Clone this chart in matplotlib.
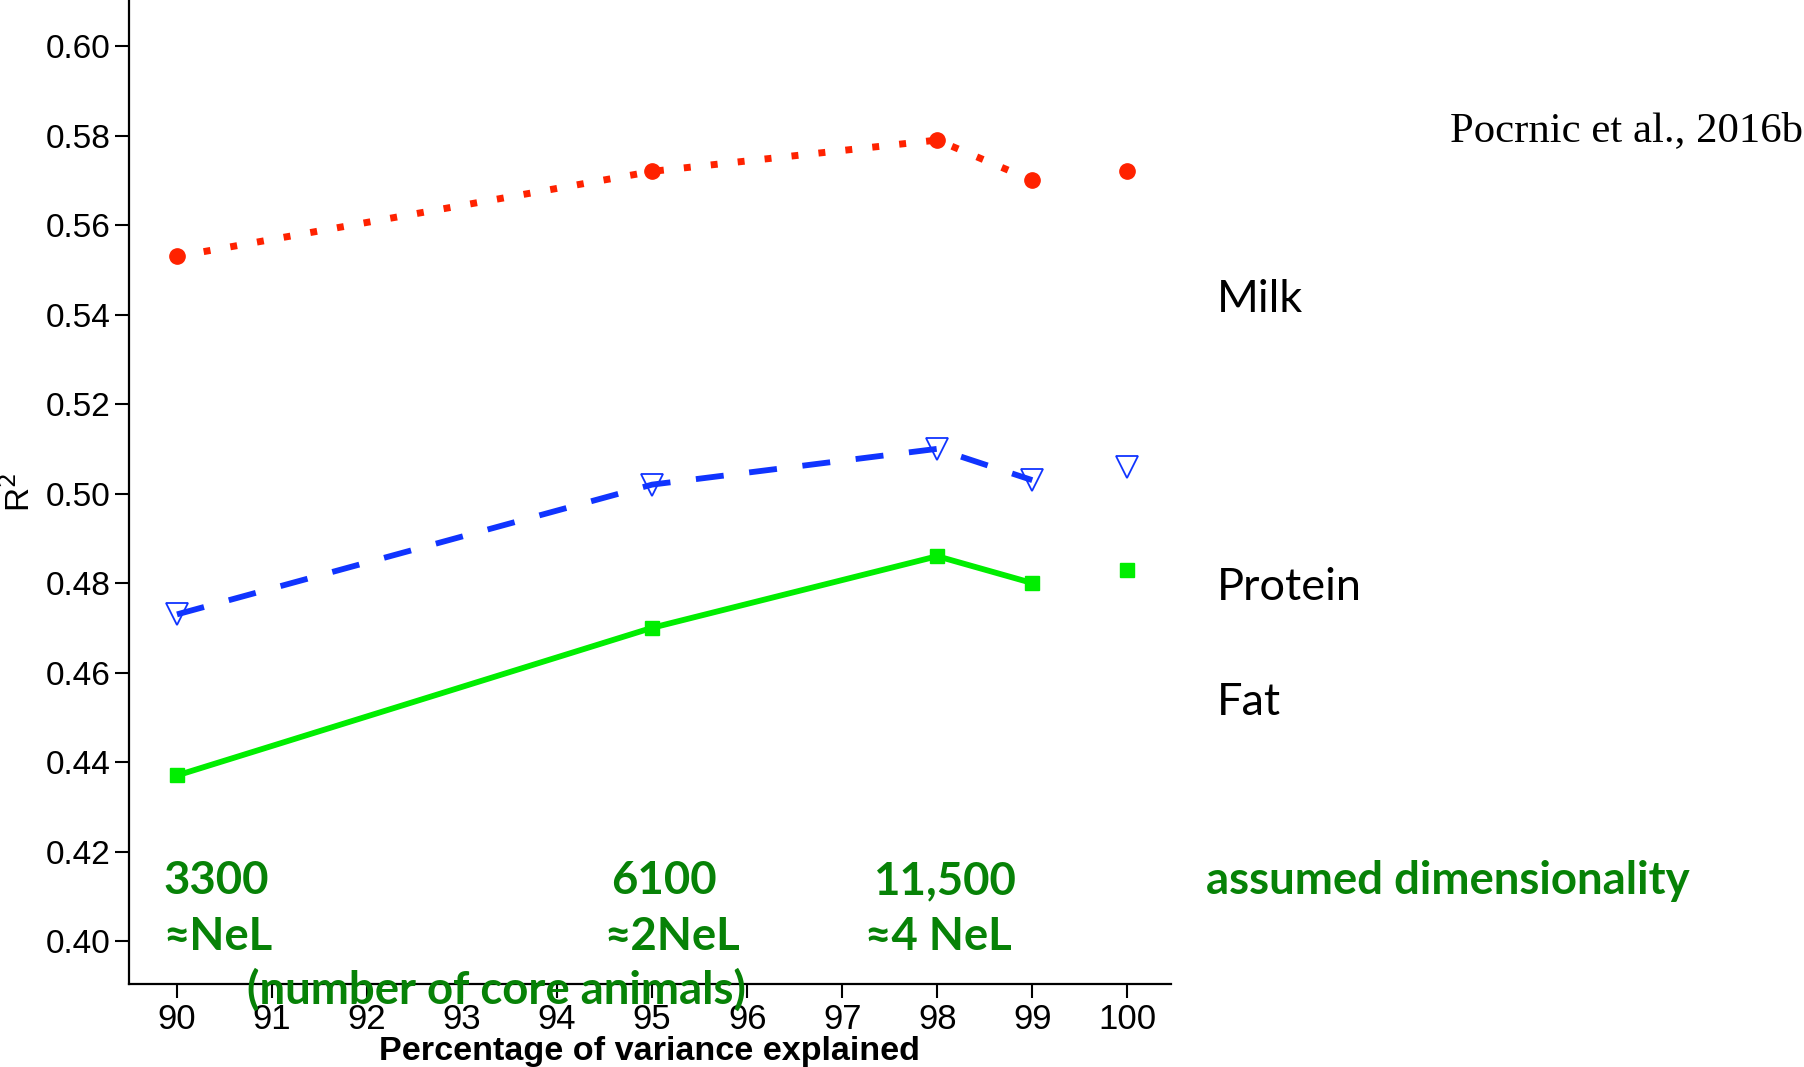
import matplotlib
matplotlib.use("Agg")
import matplotlib.pyplot as plt

# data
pct = [90, 95, 98, 99, 100]
milk = [0.553, 0.572, 0.579, 0.570, 0.572]
protein = [0.473, 0.502, 0.510, 0.503, 0.506]
fat = [0.437, 0.470, 0.486, 0.480, 0.483]
xticks = [90, 91, 92, 93, 94, 95, 96, 97, 98, 99, 100]
yticks = [0.40, 0.42, 0.44, 0.46, 0.48, 0.50, 0.52, 0.54, 0.56, 0.58, 0.60]
core_n = ["3300", "6100", "11,500"]
core_nel = ["\u2248NeL", "\u22482NeL", "\u22484 NeL"]

red = "#ff2200"
blue = "#1034ff"
lime = "#00ee00"
dkgreen = "#078207"

plt.rcParams["font.family"] = ["Liberation Sans", "DejaVu Sans"]

fig = plt.figure(figsize=(18.04, 10.67), dpi=100)
ax = fig.add_axes([0.0715, 0.0778, 0.5775, 0.9222])

# lines only for 90..99, the 100 point stands alone
ax.plot(pct[:4], milk[:4], color=red, lw=5.0, dashes=(1.0, 2.9), dash_capstyle="butt")
ax.plot(pct, milk, ls="none", marker="o", ms=11, color=red)
ax.plot(pct[:4], protein[:4], color=blue, lw=4.2, dashes=(4.8, 4.4), dash_capstyle="butt")
ax.plot(pct, protein, ls="none", marker="v", ms=16, mfc="none", mec=blue, mew=1.3)
ax.plot(pct[:4], fat[:4], color=lime, lw=4.2)
ax.plot(pct, fat, ls="none", marker="s", ms=10.5, color=lime)

ax.set_xlim(89.495, 100.458)
ax.set_ylim(0.3904, 0.6103)
ax.set_xticks(xticks)
ax.set_yticks(yticks)
ax.set_xticklabels([str(t) for t in xticks])
ax.set_yticklabels(["%.2f" % t for t in yticks])
ax.tick_params(labelsize=24, length=10, width=1.5, color="black")
ax.tick_params(axis="x", labelsize=25)
for s in ["top", "right"]:
    ax.spines[s].set_visible(False)
for s in ["left", "bottom"]:
    ax.spines[s].set_linewidth(1.6)

ax.set_xlabel("Percentage of variance explained", fontsize=24.6, fontweight="bold", labelpad=0)
ax.set_ylabel("R$^2$", fontsize=24, labelpad=6)

# side texts
fig.text(1450 / 1804, 1 - 131 / 1067, "Pocrnic et al., 2016b", fontsize=30.8,
         family="Liberation Serif", va="center", ha="left")
for lab, yb in zip(["Milk", "Protein", "Fat"], [312, 600, 715]):
    fig.text(1217 / 1804, 1 - yb / 1067, lab, fontsize=32.5, family="Lato",
             va="baseline", ha="left")

# green annotations
gfont = dict(fontsize=32.8, family="Lato", fontweight="bold", color=dkgreen, va="baseline", ha="left")
for lab, xl in zip(core_n, [163, 611, 874]):
    fig.text(xl / 1804, 1 - 894 / 1067, lab, **gfont)
for lab, xl in zip(core_nel, [163, 604, 865]):
    fig.text(xl / 1804, 1 - 950 / 1067, lab, **gfont)
fig.text(247 / 1804, 1 - 1004 / 1067, "(number of core animals)", **gfont)
fig.text(1206 / 1804, 1 - 894 / 1067, "assumed dimensionality", **gfont)

fig.savefig("out.png", dpi=100)
